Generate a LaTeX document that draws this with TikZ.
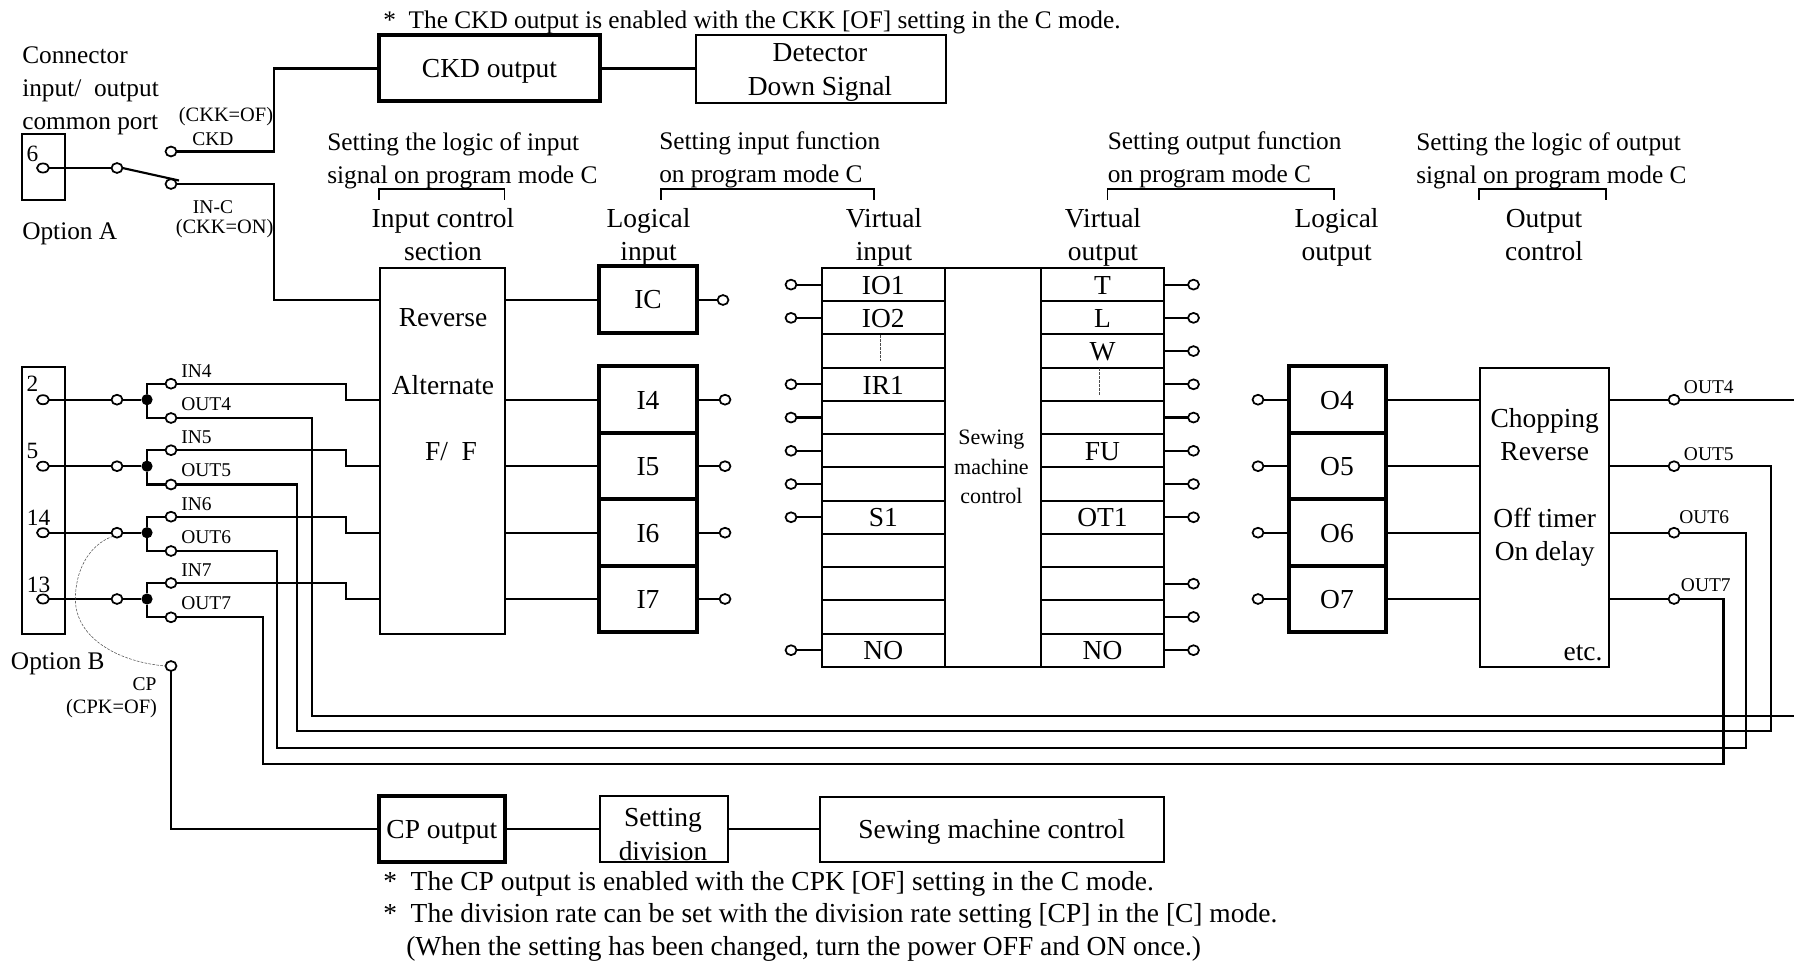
\documentclass[tikz,border=0pt]{standalone}
\usepackage{fontspec}
\setmainfont{Liberation Serif}
\usetikzlibrary{shapes.geometric,calc}
\newcommand{\fbig}{\fontsize{20.6pt}{24.75pt}\selectfont}
\newcommand{\freg}{\fontsize{19pt}{24.75pt}\selectfont}
\newcommand{\fnum}{\fontsize{17.5pt}{22pt}\selectfont}
\newcommand{\fmid}{\fontsize{16.5pt}{22pt}\selectfont}
\newcommand{\fsml}{\fontsize{14.6pt}{18pt}\selectfont}
\newcommand{\fpar}{\fontsize{15.3pt}{18pt}\selectfont}
\begin{document}
\begin{tikzpicture}[x=0.75pt,y=-0.75pt,
  wire/.style={line width=1.6pt,black},
  boxthin/.style 2 args={draw,line width=1.5pt,minimum width=#1*0.75pt,minimum height=#2*0.75pt,inner sep=0pt,outer sep=0pt,font=\fbig},
  boxthick/.style 2 args={draw,line width=3pt,minimum width=#1*0.75pt,minimum height=#2*0.75pt,inner sep=0pt,outer sep=0pt,font=\fbig},
  nudged/.style={text height=14.6pt,text depth=0pt},
  term/.style={ellipse,draw,line width=1.3pt,fill=white,minimum width=8.2pt,minimum height=7.4pt,inner sep=0pt,outer sep=0pt},
  oval/.style={ellipse,draw,line width=1.3pt,fill=white,minimum width=9pt,minimum height=6.8pt,inner sep=0pt,outer sep=0pt},
  dotj/.style={circle,fill=black,minimum size=8.4pt,inner sep=0pt,outer sep=0pt},
  big/.style={font=\fbig,inner sep=0pt,align=center},
  bigl/.style={font=\fbig,inner sep=0pt,align=left,anchor=west},
  regl/.style={font=\freg,inner sep=0pt,align=left,anchor=west},
  num/.style={font=\fnum,inner sep=0pt},
  mid/.style={font=\fmid,inner sep=0pt,align=center},
  sml/.style={font=\fsml,inner sep=0pt,align=center},
  parn/.style={font=\fpar,inner sep=0pt,align=center},
  smll/.style={font=\fsml,inner sep=0pt,anchor=west},
  fine/.style={line width=0.4pt,black!70,dashed,dash pattern=on 2pt off 1pt},
  brk/.style={line width=1.3pt,black}]
\useasboundingbox (0,0) rectangle (1794,962);

% top notes and headers
\node[regl] (noteckd) at (383,22.8) {*\ \ The CKD output is enabled with the CKK [OF] setting in the C mode.};
\node[regl] (conn) at (22,91.3) {Connector\\input/\ \ output\\common port};
\node[regl] (hl1) at (327,161.3) {Setting the logic of input\\signal on program mode C};
\node[regl] (hl2) at (659,160.3) {Setting input function\\on program mode C};
\node[regl] (hl3) at (1107.5,160.3) {Setting output function\\on program mode C};
\node[regl] (hl4) at (1416,161.3) {Setting the logic of output\\signal on program mode C};
\node[big] (h1) at (443,235) {Input control\\section};
\node[big] (h2) at (648.6,237) {Logical\\input};
\node[big] (h3) at (884,237) {Virtual\\input};
\node[big] (h4) at (1103,237) {Virtual\\output};
\node[big] (h5) at (1336.6,237) {Logical\\output};
\node[big] (h6) at (1544,235) {Output\\control};
\draw[brk] (379,200) |- (504.4,189) -- (504.4,200);
\draw[brk] (661,200) |- (874,189) -- (874,200);
\draw[brk] (1107.5,200) |- (1334,189) -- (1334,200);
\draw[brk] (1479,200) |- (1606,189) -- (1606,200);

% option A
\node[boxthin={42.7}{66}] (portA) at (43.15,167) {};
\node[num] (n6) at (32.5,154) {6};
\node[regl] (optA) at (22,234.3) {Option A};
\node[oval] (pa) at (43,168) {};
\node[term] (ka) at (117,168) {};
\node[term] (sw1) at (171,151.5) {};
\node[term] (sw2) at (171,184) {};
\coordinate (swend) at (179,180.5);
\draw[wire] (pa.east) -- (ka.west);
\draw[wire] (ka.east) -- (swend);
\node[parn] (lckk1) at (226,117) {(CKK=OF)};
\node[sml] (lckd) at (213,139) {CKD};
\node[sml] (linc) at (213,207) {IN-C};
\node[parn] (lckk2) at (224.6,229) {(CKK=ON)};

% CKD chain
\node[boxthick={221}{66},text depth=0pt] (ckd) at (489.5,68.5) {CKD output};
\node[boxthin={250.4}{68}] (det) at (820.8,69.5) {};
\node[big] (dett) at (820,72.5) {Detector\\[1pt]Down Signal};
\draw[wire] (sw1.east) -- (274,151.5) -- (274,68.5) -- (ckd.west);
\draw[wire] (ckd.east) -- (ckd.east -| det.west);

% input control, logical input
\node[boxthin={125}{365.7}] (inctl) at (442.5,450.85) {};
\node[big] (t1) at (443,318) {Reverse};
\node[big] (t2) at (443,385) {Alternate};
\node[big] (t3) at (451,452) {F/\ \ F};
\node[boxthick={98}{67}] (ic) at (648,300) {IC\hspace{1.5pt}};
\node[term] (ict) at (723,300) {};
\draw[wire] (sw2.east) -- (274,184) -- (274,300) -- (ic.west -| inctl.west);
\draw[wire] (inctl.east |- ic) -- (ic.west);
\draw[wire] (ic.east) -- (ict.west);

% option B ports
\node[boxthin={42.7}{267}] (portB) at (43.15,500.2) {};
\node[num] (nb2) at (32.5,384) {2};
\node[num] (nb5) at (32.5,451) {5};
\node[num] (nb14) at (38.6,517.3) {14};
\node[num] (nb13) at (38.6,585) {13};
\node[regl] (optB) at (10.7,664.3) {Option B};

\foreach \i/\y/\iy/\oy/\lab/\olab in {4/399.7/383.7/418/IN4/OUT4,5/466.2/450.2/484.5/IN5/OUT5,6/532.7/516.7/551/IN6/OUT6,7/599/583/617.3/IN7/OUT7}{
  \node[oval] (p\i) at (43,\y) {};
  \node[term] (k\i) at (117,\y) {};
  \node[dotj] (d\i) at (147,\y) {};
  \node[term] (in\i) at (171,\iy) {};
  \node[term] (out\i) at (171,\oy) {};
  \draw[wire] (p\i.east) -- (k\i.west);
  \draw[wire] (k\i.east) -- (d\i);
  \draw[wire] (d\i) |- (in\i.west);
  \draw[wire] (d\i) |- (out\i.west);
  \node[boxthick={98}{66.5},nudged] (I\i) at (648,\y) {I\i\hspace{1.5pt}};
  \node[term] (it\i) at (725,\y) {};
  \node[boxthick={97}{66.5},nudged] (O\i) at (1337,\y) {O\i\hspace{3pt}};
  \node[term] (ot\i) at (1258,\y) {};
  \node[term] (rc\i) at (1674,\y) {};
  \draw[wire] (in\i.east) -- (346,\iy) -- (346,\y) -- (inctl.west |- k\i);
  \draw[wire] (inctl.east |- k\i) -- (I\i.west);
  \draw[wire] (I\i.east) -- (it\i.west);
  \draw[wire] (ot\i.east) -- (O\i.west);
  \node[smll] (lin\i) at (181,\iy-13) {\lab};
  \node[smll] (lout\i) at (181,\oy-14) {\olab};
}

% virtual tables
\foreach \r/\tl/\tr in {1/IO1/T,2/IO2/L,3//W,4/IR1/,5//,6//FU,7//,8/S1/OT1,9//,10//,11//,12/NO/NO}{
  \node[boxthin={122.5}{33.233},nudged] (vi\r) at (883.25,268+33.233*\r-16.6) {\tl};
  \node[boxthin={123}{33.233},nudged] (vo\r) at (1102.5,268+33.233*\r-16.6) {\tr};
}
\node[boxthin={96.5}{398.8}] (smc) at (992.75,467.4) {};
\node[mid] (smct) at (991.4,467) {Sewing\\machine\\control};
\foreach \r in {1,2,4,5,6,7,8,12}{
  \node[term] (vl\r) at (791,268+33.233*\r-16.6) {};
  \draw[wire] (vl\r.east) -- (vi\r.west);
}
\foreach \r in {1,2,3,4,5,6,7,8,10,11,12}{
  \node[term] (vr\r) at (1193.5,268+33.233*\r-16.6) {};
  \draw[wire] (vo\r.east) -- (vr\r.west);
}
\draw[fine] (880.4,335) -- (880.4,361);
\draw[fine] (1099.6,368) -- (1099.6,395);

% output control
\node[boxthin={129.2}{299}] (octl) at (1544.1,517.5) {};
\node[big] (c1) at (1544.7,434.5) {Chopping\\Reverse};
\node[big] (c2) at (1544.7,536.8) {Off timer\\On delay};
\node[big] (c3) at (1583,653) {etc.};
\foreach \i in {4,5,6,7}{
  \draw[wire] (O\i.east) -- (octl.west |- O\i);
  \draw[wire] (octl.east |- O\i) -- (rc\i.west);
}
\node[smll] (lr4) at (1683.7,387) {OUT4};
\node[smll] (lr5) at (1683.7,454) {OUT5};
\node[smll] (lr6) at (1679,517) {OUT6};
\node[smll] (lr7) at (1680.7,585) {OUT7};

% feedback buses
\coordinate (e4a) at (1794,399.7);
\coordinate (e4b) at (1794,716);
\draw[wire] (rc4.east) -- (e4a);
\draw[wire] (out4.east) -| (312,716) -- (e4b);
\draw[wire] (out5.east) -| (296.6,731) -- (1770.8,731) |- (rc5.east);
\draw[wire] (out6.east) -| (276.8,748) -- (1746,748) |- (rc6.east);
\draw[wire] (out7.east) -| (263,764) -- (1723.5,764) |- (rc7.east);

% CP chain
\node[term] (cp) at (171,666) {};
\draw[fine] (k6.south west) .. controls (88,545) and (75,572) .. (75.4,600) .. controls (76,638) and (118,662) .. (cp.west);
\node[sml] (lcp) at (144.6,684) {CP};
\node[parn] (lcpk) at (111.6,709) {(CPK=OF)};
\node[boxthick={126.4}{66},text depth=0pt] (cpo) at (441.8,829) {CP output};
\node[boxthin={128}{66}] (setd) at (663.6,829) {};
\node[big] (setdt) at (663,834.5) {Setting\\[1pt]division};
\node[boxthin={343.6}{65},text depth=0pt] (smc2) at (991.8,829) {Sewing machine control};
\draw[wire] (cp.south) |- (cpo.west);
\draw[wire] (cpo.east) -- (setd.west);
\draw[wire] (setd.east) -- (smc2.west);
\node[bigl] (note2) at (383,883.5) {*\ \ The CP output is enabled with the CPK [OF] setting in the C mode.};
\node[bigl] (note3) at (383,915.5) {*\ \ The division rate can be set with the division rate setting [CP] in the [C] mode.};
\node[bigl] (note4) at (406,948.5) {(When the setting has been changed, turn the power OFF and ON once.)};
\end{tikzpicture}
\end{document}
